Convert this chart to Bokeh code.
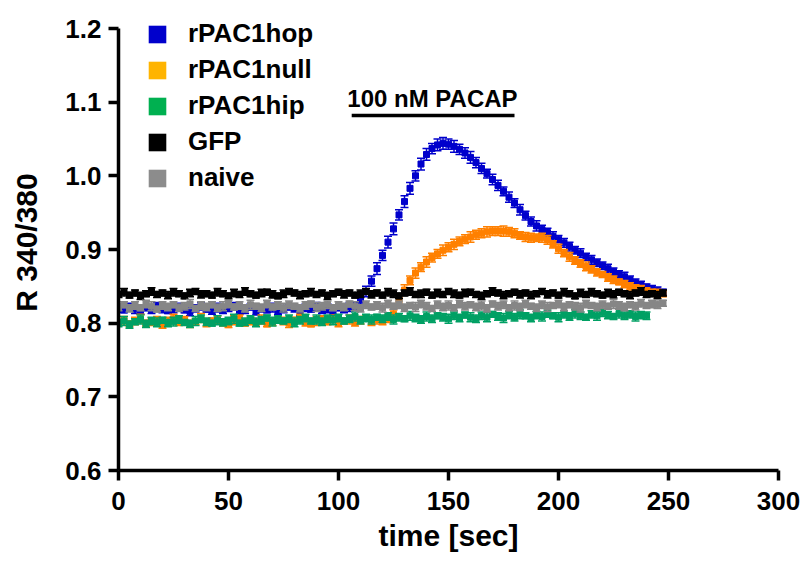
from bokeh.plotting import figure
from bokeh.models import (ColumnDataSource, Legend, LegendItem, Label, Range1d,
                          FixedTicker, PrintfTickFormatter)
from bokeh.embed import file_html
from bokeh.resources import INLINE

FONT = "Liberation Sans"
NAN = float("nan")

# ---------------- data ----------------
time = [0.0, 2.5, 5.0, 7.5, 10.0, 12.5, 15.0, 17.5, 20.0, 22.5,
        25.0, 27.5, 30.0, 32.5, 35.0, 37.5, 40.0, 42.5, 45.0, 47.5,
        50.0, 52.5, 55.0, 57.5, 60.0, 62.5, 65.0, 67.5, 70.0, 72.5,
        75.0, 77.5, 80.0, 82.5, 85.0, 87.5, 90.0, 92.5, 95.0, 97.5,
        100.0, 102.5, 105.0, 107.5, 110.0, 112.5, 115.0, 117.5, 120.0, 122.5,
        125.0, 127.5, 130.0, 132.5, 135.0, 137.5, 140.0, 142.5, 145.0, 147.5,
        150.0, 152.5, 155.0, 157.5, 160.0, 162.5, 165.0, 167.5, 170.0, 172.5,
        175.0, 177.5, 180.0, 182.5, 185.0, 187.5, 190.0, 192.5, 195.0, 197.5,
        200.0, 202.5, 205.0, 207.5, 210.0, 212.5, 215.0, 217.5, 220.0, 222.5,
        225.0, 227.5, 230.0, 232.5, 235.0, 237.5, 240.0, 242.5, 245.0, 247.5]

hop_mean = [0.820, 0.818, 0.822, 0.819, 0.817, 0.821, 0.818, 0.823, 0.820, 0.817,
            0.819, 0.822, 0.818, 0.816, 0.820, 0.823, 0.819, 0.817, 0.821, 0.818,
            0.820, 0.823, 0.817, 0.819, 0.822, 0.816, 0.820, 0.818, 0.821, 0.817,
            0.819, 0.822, 0.820, 0.816, 0.821, 0.819, 0.823, 0.818, 0.820, 0.817,
            0.821, 0.819, 0.822, 0.824, 0.832, 0.843, 0.857, 0.874, 0.892, 0.910,
            0.928, 0.947, 0.965, 0.983, 1.000, 1.016, 1.029, 1.037, 1.042, 1.044,
            1.043, 1.040, 1.036, 1.031, 1.025, 1.018, 1.010, 1.003, 0.995, 0.987,
            0.979, 0.971, 0.963, 0.954, 0.946, 0.938, 0.932, 0.927, 0.923, 0.918,
            0.914, 0.909, 0.904, 0.899, 0.895, 0.890, 0.886, 0.882, 0.878, 0.874,
            0.870, 0.866, 0.863, 0.859, 0.855, 0.852, 0.849, 0.846, 0.844, 0.842]
hop_sem = [0.005, 0.004, 0.005, 0.006, 0.005, 0.004, 0.005, 0.005, 0.006, 0.004,
           0.005, 0.005, 0.004, 0.006, 0.005, 0.005, 0.004, 0.005, 0.006, 0.005,
           0.004, 0.005, 0.005, 0.006, 0.004, 0.005, 0.005, 0.004, 0.006, 0.005,
           0.005, 0.004, 0.005, 0.006, 0.005, 0.004, 0.005, 0.005, 0.006, 0.005,
           0.004, 0.005, 0.006, 0.005, 0.006, 0.007, 0.007, 0.008, 0.007, 0.008,
           0.008, 0.007, 0.008, 0.008, 0.007, 0.008, 0.008, 0.007, 0.008, 0.008,
           0.007, 0.008, 0.007, 0.007, 0.008, 0.007, 0.007, 0.006, 0.007, 0.007,
           0.006, 0.007, 0.006, 0.007, 0.006, 0.006, 0.007, 0.006, 0.006, 0.006,
           0.005, 0.006, 0.006, 0.005, 0.006, 0.005, 0.006, 0.005, 0.005, 0.006,
           0.005, 0.005, 0.006, 0.005, 0.005, 0.005, 0.004, 0.005, 0.005, 0.004]

null_mean = [0.801, 0.804, 0.799, 0.803, 0.806, 0.800, 0.802, 0.805, 0.798, 0.803,
             0.806, 0.801, 0.804, 0.799, 0.802, 0.807, 0.800, 0.803, 0.805, 0.801,
             0.798, 0.804, 0.806, 0.800, 0.803, 0.801, 0.805, 0.799, 0.802, 0.806,
             0.803, 0.800, 0.804, 0.807, 0.801, 0.799, 0.803, 0.805, 0.802, 0.806,
             0.800, 0.803, 0.805, 0.801, 0.804, 0.807, 0.802, 0.805, 0.803, 0.806,
             0.812, 0.828, 0.845, 0.858, 0.868, 0.876, 0.883, 0.889, 0.894, 0.899,
             0.903, 0.907, 0.911, 0.914, 0.917, 0.920, 0.922, 0.924, 0.925, 0.925,
             0.925, 0.924, 0.922, 0.919, 0.917, 0.916, 0.916, 0.916, 0.913, 0.907,
             0.901, 0.895, 0.890, 0.885, 0.881, 0.877, 0.873, 0.869, 0.866, 0.862,
             0.859, 0.856, 0.853, 0.850, 0.848, 0.846, 0.844, 0.842, 0.841, 0.840]
null_sem = [0.004, 0.005, 0.004, 0.005, 0.006, 0.004, 0.005, 0.004, 0.005, 0.005,
            0.006, 0.004, 0.005, 0.005, 0.004, 0.006, 0.005, 0.004, 0.005, 0.005,
            0.004, 0.006, 0.005, 0.004, 0.005, 0.005, 0.006, 0.004, 0.005, 0.004,
            0.005, 0.006, 0.004, 0.005, 0.005, 0.004, 0.006, 0.005, 0.004, 0.005,
            0.005, 0.004, 0.006, 0.005, 0.005, 0.004, 0.005, 0.006, 0.005, 0.005,
            0.006, 0.006, 0.007, 0.006, 0.007, 0.006, 0.007, 0.006, 0.006, 0.007,
            0.006, 0.007, 0.006, 0.006, 0.007, 0.006, 0.006, 0.007, 0.006, 0.006,
            0.007, 0.006, 0.006, 0.005, 0.006, 0.006, 0.005, 0.006, 0.006, 0.005,
            0.006, 0.005, 0.006, 0.005, 0.005, 0.006, 0.005, 0.005, 0.004, 0.005,
            0.005, 0.004, 0.005, 0.005, 0.004, 0.005, 0.004, 0.004, 0.005, 0.004]

hip_mean = [0.800, 0.803, 0.798, 0.802, 0.805, 0.799, 0.803, 0.801, 0.804, 0.800,
            0.802, 0.805, 0.801, 0.799, 0.803, 0.806, 0.802, 0.800, 0.804, 0.801,
            0.803, 0.806, 0.800, 0.802, 0.805, 0.801, 0.804, 0.807, 0.802, 0.805,
            0.803, 0.806, 0.801, 0.804, 0.807, 0.803, 0.805, 0.802, 0.806, 0.804,
            0.807, 0.803, 0.806, 0.809, 0.804, 0.807, 0.805, 0.808, 0.806, 0.809,
            0.805, 0.808, 0.806, 0.810, 0.807, 0.805, 0.809, 0.806, 0.810, 0.808,
            0.806, 0.810, 0.807, 0.811, 0.808, 0.806, 0.810, 0.808, 0.812, 0.809,
            0.807, 0.811, 0.808, 0.812, 0.810, 0.807, 0.811, 0.809, 0.813, 0.810,
            0.808, 0.812, 0.809, 0.813, 0.810, 0.808, 0.812, 0.810, 0.814, 0.811,
            0.809, 0.813, 0.810, 0.812, 0.809, 0.811, 0.810]
hip_sem = [0.005, 0.006, 0.005, 0.004, 0.006, 0.005, 0.005, 0.006, 0.004, 0.005,
           0.006, 0.005, 0.004, 0.005, 0.006, 0.005, 0.005, 0.004, 0.006, 0.005,
           0.005, 0.006, 0.004, 0.005, 0.005, 0.006, 0.005, 0.004, 0.006, 0.005,
           0.004, 0.005, 0.006, 0.005, 0.005, 0.004, 0.006, 0.005, 0.005, 0.006,
           0.005, 0.004, 0.005, 0.006, 0.005, 0.005, 0.006, 0.004, 0.005, 0.005,
           0.006, 0.005, 0.004, 0.006, 0.005, 0.005, 0.006, 0.005, 0.004, 0.005,
           0.006, 0.005, 0.005, 0.004, 0.006, 0.005, 0.005, 0.006, 0.004, 0.005,
           0.006, 0.005, 0.005, 0.006, 0.004, 0.005, 0.005, 0.006, 0.005, 0.004,
           0.006, 0.005, 0.005, 0.006, 0.005, 0.004, 0.005, 0.006, 0.005, 0.005,
           0.004, 0.006, 0.005, 0.005, 0.006, 0.005, 0.005]

gfp_mean = [0.839, 0.842, 0.838, 0.841, 0.837, 0.840, 0.843, 0.839, 0.841, 0.838,
            0.842, 0.840, 0.837, 0.841, 0.843, 0.839, 0.840, 0.838, 0.842, 0.840,
            0.837, 0.841, 0.839, 0.843, 0.840, 0.838, 0.841, 0.842, 0.839, 0.837,
            0.840, 0.843, 0.841, 0.838, 0.840, 0.842, 0.839, 0.841, 0.837, 0.840,
            0.842, 0.839, 0.841, 0.838, 0.840, 0.843, 0.839, 0.841, 0.838, 0.842,
            0.840, 0.837, 0.841, 0.843, 0.839, 0.840, 0.842, 0.838, 0.841, 0.839,
            0.843, 0.840, 0.838, 0.841, 0.842, 0.839, 0.837, 0.840, 0.843, 0.841,
            0.838, 0.840, 0.842, 0.839, 0.841, 0.838, 0.840, 0.843, 0.839, 0.841,
            0.838, 0.842, 0.840, 0.837, 0.841, 0.839, 0.842, 0.840, 0.838, 0.841,
            0.839, 0.842, 0.840, 0.838, 0.841, 0.843, 0.839, 0.840, 0.838, 0.841]
gfp_sem = [0.004, 0.005, 0.004, 0.004, 0.005, 0.004, 0.005, 0.004, 0.004, 0.005,
           0.005, 0.004, 0.004, 0.005, 0.004, 0.005, 0.004, 0.004, 0.005, 0.004,
           0.004, 0.005, 0.004, 0.005, 0.004, 0.004, 0.005, 0.004, 0.005, 0.004,
           0.005, 0.004, 0.004, 0.005, 0.004, 0.005, 0.004, 0.004, 0.005, 0.004,
           0.004, 0.005, 0.004, 0.004, 0.005, 0.004, 0.005, 0.004, 0.004, 0.005,
           0.005, 0.004, 0.004, 0.005, 0.004, 0.005, 0.004, 0.004, 0.005, 0.004,
           0.004, 0.005, 0.004, 0.005, 0.004, 0.004, 0.005, 0.004, 0.005, 0.004,
           0.005, 0.004, 0.004, 0.005, 0.004, 0.005, 0.004, 0.004, 0.005, 0.004,
           0.004, 0.005, 0.004, 0.004, 0.005, 0.004, 0.005, 0.004, 0.004, 0.005,
           0.005, 0.004, 0.004, 0.005, 0.004, 0.005, 0.004, 0.004, 0.005, 0.004]

naive_mean = [0.822, 0.825, 0.820, 0.824, 0.821, 0.826, 0.823, 0.819, 0.824, 0.822,
              0.825, 0.821, 0.823, 0.826, 0.820, 0.824, 0.822, 0.825, 0.821, 0.823,
              0.826, 0.822, 0.824, 0.820, 0.825, 0.823, 0.821, 0.826, 0.822, 0.824,
              0.821, 0.825, 0.823, 0.820, 0.824, 0.826, 0.822, 0.823, 0.825, 0.821,
              0.824, 0.822, 0.826, 0.823, 0.820, 0.825, 0.822, 0.824, 0.821, 0.826,
              0.823, 0.825, 0.821, 0.824, 0.822, 0.826, 0.823, 0.820, 0.825, 0.822,
              0.824, 0.821, 0.826, 0.823, 0.825, 0.822, 0.824, 0.820, 0.826, 0.823,
              0.825, 0.821, 0.824, 0.822, 0.826, 0.823, 0.821, 0.825, 0.822, 0.824,
              0.826, 0.822, 0.825, 0.823, 0.821, 0.826, 0.824, 0.822, 0.825, 0.823,
              0.826, 0.824, 0.822, 0.825, 0.823, 0.827, 0.824, 0.826, 0.825, 0.827]
naive_sem = [0.005, 0.004, 0.005, 0.005, 0.004, 0.005, 0.006, 0.004, 0.005, 0.005,
             0.004, 0.005, 0.005, 0.006, 0.004, 0.005, 0.005, 0.004, 0.005, 0.006,
             0.005, 0.004, 0.005, 0.005, 0.006, 0.004, 0.005, 0.005, 0.004, 0.005,
             0.006, 0.005, 0.004, 0.005, 0.005, 0.004, 0.006, 0.005, 0.005, 0.004,
             0.005, 0.005, 0.004, 0.006, 0.005, 0.005, 0.004, 0.005, 0.006, 0.005,
             0.004, 0.005, 0.005, 0.004, 0.006, 0.005, 0.005, 0.004, 0.005, 0.005,
             0.006, 0.004, 0.005, 0.005, 0.004, 0.005, 0.006, 0.005, 0.004, 0.005,
             0.005, 0.004, 0.006, 0.005, 0.005, 0.004, 0.005, 0.005, 0.006, 0.004,
             0.005, 0.005, 0.004, 0.005, 0.006, 0.005, 0.004, 0.005, 0.005, 0.004,
             0.006, 0.005, 0.005, 0.004, 0.005, 0.005, 0.004, 0.005, 0.005, 0.004]

series_names = ["rPAC1hop", "rPAC1null", "rPAC1hip", "GFP", "naive"]
data_colors = ["#0000CC", "#FF8000", "#00A064", "#000000", "#868686"]
legend_colors = ["#0000CC", "#FFB400", "#00B050", "#000000", "#8C8C8C"]

stim_start = 106
stim_end = 180
stim_text = "100 nM PACAP"

x_ticks = [0, 50, 100, 150, 200, 250, 300]
y_ticks = [0.6, 0.7, 0.8, 0.9, 1.0, 1.1, 1.2]

# ---------------- figure ----------------
# frame extends a little above 1.2 so the legend is not clipped; the y axis line stops at 1.2
FRAME_H = 456
Y_TOP = 0.6 + FRAME_H * (0.6 / 442.0)
p = figure(frame_width=660, frame_height=FRAME_H,
           x_range=Range1d(0, 300), y_range=Range1d(0.6, Y_TOP),
           output_backend="svg", toolbar_location=None,
           min_border_left=118, min_border_right=24,
           min_border_top=14, min_border_bottom=60)
p.xgrid.visible = False
p.ygrid.visible = False
p.outline_line_color = None
p.background_fill_color = "white"
p.border_fill_color = "white"

all_series = [
    (time, hop_mean, hop_sem),
    (time, null_mean, null_sem),
    (time[:len(hip_mean)], hip_mean, hip_sem),
    (time, gfp_mean, gfp_sem),
    (time, naive_mean, naive_sem),
]

for (t, m, e), col in zip(all_series, data_colors):
    lo = [a - b for a, b in zip(m, e)]
    hi = [a + b for a, b in zip(m, e)]
    src = ColumnDataSource(dict(t=t, m=m, lo=lo, hi=hi))
    p.segment("t", "lo", "t", "hi", source=src, line_color=col, line_width=1.5)
    p.scatter("t", "hi", source=src, marker="dash", size=8, line_color=col, line_width=1.5)
    p.scatter("t", "lo", source=src, marker="dash", size=8, line_color=col, line_width=1.5)
    p.scatter("t", "m", source=src, marker="square", size=6, fill_color=col, line_color=col)

# stimulus bar + label
p.segment(x0=[stim_start], y0=[1.082], x1=[stim_end], y1=[1.082],
          line_color="black", line_width=3.5)
p.add_layout(Label(x=stim_start - 2, y=1.1055, text=stim_text, text_font=FONT,
                   text_font_style="bold", text_font_size="24px",
                   text_baseline="alphabetic", text_color="black"))

# legend (swatch-only renderers, nothing drawn in the frame)
items = []
for name, col in zip(series_names, legend_colors):
    r = p.quad(left=[NAN], right=[NAN], bottom=[NAN], top=[NAN],
               fill_color=col, line_color=None)
    items.append(LegendItem(label=name, renderers=[r]))
legend = Legend(items=items, location=(28, 277), orientation="vertical",
                glyph_width=22, glyph_height=22, label_standoff=20,
                label_height=22, spacing=5, padding=0, margin=0,
                border_line_alpha=0, background_fill_alpha=0,
                label_text_font=FONT, label_text_font_style="bold",
                label_text_font_size="26px", label_text_color="black")
p.add_layout(legend)

# axes
for ax in (p.xaxis[0], p.yaxis[0]):
    ax.axis_line_width = 3.5
    ax.axis_line_color = "black"
    ax.major_tick_line_width = 3.5
    ax.major_tick_line_color = "black"
    ax.major_tick_out = 10
    ax.major_tick_in = 0
    ax.minor_tick_line_color = None
    ax.major_label_text_font = FONT
    ax.major_label_text_font_style = "bold"
    ax.major_label_text_font_size = "26px"
    ax.major_label_text_color = "black"
    ax.axis_label_text_font = FONT
    ax.axis_label_text_font_style = "bold"
    ax.axis_label_text_color = "black"

p.yaxis.bounds = (0.6, 1.2)
p.xaxis.ticker = FixedTicker(ticks=x_ticks)
p.yaxis.ticker = FixedTicker(ticks=y_ticks)
p.yaxis.formatter = PrintfTickFormatter(format="%.1f")
p.xaxis.axis_label = "time [sec]"
p.yaxis.axis_label = "R 340/380"
p.xaxis.axis_label_text_font_size = "30px"
p.yaxis.axis_label_text_font_size = "30px"
p.xaxis.major_label_standoff = 11
p.yaxis.major_label_standoff = 7
p.xaxis.axis_label_standoff = 6
p.yaxis.axis_label_standoff = 19

open("out.html", "w").write(file_html(p, INLINE))
